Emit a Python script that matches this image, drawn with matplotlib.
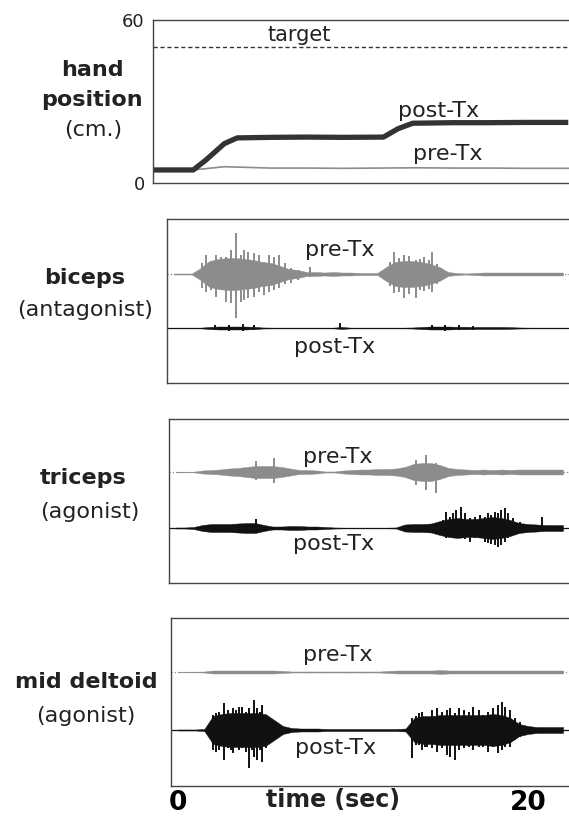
import numpy as np
from matplotlib import pyplot as plt

plt.rcParams['font.family'] = ['DejaVu Sans']

W, H = 569, 818

# ---- hand position (cm) ----
target = 50
pre_pos_t = [-0.4, 1.8, 2.5, 3.5, 4.5, 6, 8, 10, 12, 14, 16, 18, 20, 22.3]
pre_pos = [4.8, 4.8, 5.3, 6.0, 5.8, 5.5, 5.5, 5.4, 5.5, 5.6, 5.5, 5.5, 5.4, 5.4]
post_pos_t = [-0.4, 1.8, 2.5, 3.5, 4.2, 6, 8, 10, 12.2, 13.0, 13.8, 16, 18, 20, 22.3]
post_pos = [4.8, 4.8, 8.5, 14.5, 16.6, 16.8, 16.9, 16.8, 16.9, 20.0, 22.0, 22.2, 22.2, 22.3, 22.3]

# ---- EMG envelopes, sampled every 0.5 s from 0 to 22 s ----
t_env = np.arange(0, 22.5, 0.5)

biceps_pre = [0.5, 0.5, 0.5, 6, 13, 15, 16, 16, 15, 14, 12, 11, 8, 5, 4, 2, 2, 1.5,
              2, 1.5, 1.5, 1, 1, 1, 7, 12, 13, 13, 12, 10, 7, 2, 1, 0.5, 1, 1.5,
              1.5, 1.5, 1.5, 1.5, 1.5, 1.5, 1.5, 1.5, 1.5]
biceps_post = [0.3, 0.3, 0.3, 0.3, 1, 1.5, 1.5, 1.5, 1.5, 1.2, 0.5, 0.3, 0.3, 0.3, 0.3,
               0.3, 0.3, 0.3, 0.3, 1, 0.3, 0.3, 0.3, 0.3, 0.3, 0.3, 0.3, 0.5, 1, 1.5,
               1.5, 1.5, 1.2, 1.2, 1, 1, 1, 1, 0.8, 0.5, 0.3, 0.3, 0.3, 0.3, 0.3]
triceps_pre = [0.3, 0.3, 0.3, 1.5, 2, 2.5, 3.5, 4, 5, 6, 6, 6, 5, 3.5, 2, 2, 1.5, 0.5,
               0.5, 1.5, 2, 2.5, 2.5, 3, 3, 3.5, 5, 8, 9, 9, 7, 4, 3, 2.5, 2, 2.5,
               2, 2.5, 2, 2.5, 2.5, 2.5, 2.5, 2.5, 2.5]
triceps_post = [0.5, 0.5, 1, 3, 4, 4, 4, 4.5, 5, 5, 3, 1.5, 1.5, 2, 2, 1.5, 1.5, 1,
                0.5, 0.3, 0.3, 0.3, 0.3, 0.3, 0.3, 0.5, 3.5, 4, 4, 4.5, 7, 9, 10, 9,
                9, 10, 11, 10, 8, 5, 4, 3.5, 3, 3, 3]
deltoid_pre = [0.3, 0.3, 0.3, 0.5, 1.5, 1.5, 1.5, 1.5, 1.5, 1.5, 1.5, 1.5, 1, 0.5, 0.5,
               0.5, 0.5, 0.5, 0.5, 0.5, 0.5, 0.5, 0.5, 0.5, 1, 1.5, 1.5, 1.5, 1.5, 1.5,
               2, 1.5, 1.5, 1.5, 1.5, 1.5, 1.5, 1.5, 1.5, 1.5, 1.5, 1.5, 1.5, 1.5, 1.5]
deltoid_post = [0.5, 0.5, 0.5, 1, 14, 16, 17, 17, 17, 17, 16, 10, 4, 2, 1.5, 1.5, 1.5,
                1, 1, 1, 1, 1, 1, 1, 1, 1, 1.5, 12, 14, 14, 15, 15, 15, 15, 15, 15,
                16, 15, 12, 6, 4, 3, 3, 3, 3]

# ---- individual spikes: time (s), height above, depth below ----
biceps_pre_sp_t = [1.6, 1.78, 2.07, 2.35, 2.64, 2.92, 3.21, 3.5, 3.78, 3.97, 4.16,
                   4.54, 4.82, 5.11, 5.39, 5.68, 5.96, 6.25, 6.63, 7.0, 7.67,
                   12.2, 12.42, 12.7, 13.0, 13.3, 13.66, 13.9, 14.13, 14.4, 14.6,
                   14.85, 15.1]
biceps_pre_sp_up = [11, 19, 12, 19, 17, 17, 24, 41, 19, 24, 22, 21, 19, 12, 19, 17,
                    19, 11, 6, 4, 7, 12, 22, 16, 19, 18, 14, 15, 17, 14, 22, 10, 6]
biceps_pre_sp_dn = [14, 18, 16, 23, 16, 28, 29, 44, 28, 26, 24, 23, 18, 21, 18, 16,
                    14, 10, 9, 6, 3, 12, 19, 18, 24, 20, 24, 16, 17, 15, 18, 10, 6]
biceps_post_sp_t = [2.3, 3.1, 3.9, 4.5, 9.4, 14.6, 15.3, 16.1, 16.9]
biceps_post_sp_up = [3, 3, 4, 3, 5, 3, 3, 3, 2]
biceps_post_sp_dn = [2, 3, 3, 2, 1, 2, 3, 2, 2]

triceps_pre_sp_t = [4.54, 5.58, 13.66, 14.2, 14.8]
triceps_pre_sp_up = [11, 14, 12, 17, 9]
triceps_pre_sp_dn = [8, 11, 13, 18, 21]
triceps_post_sp_t = [4.54, 15.18, 15.37, 15.56, 15.74, 15.94, 16.22, 16.41, 16.7,
                     16.98, 17.26, 17.55, 17.74, 17.93, 18.12, 18.31, 18.5, 18.69,
                     18.88, 19.16, 19.54, 20.78]
triceps_post_sp_up = [9, 8, 16, 11, 15, 18, 21, 15, 10, 11, 13, 11, 15, 13, 16, 15,
                      18, 20, 15, 10, 6, 11]
triceps_post_sp_dn = [5, 5, 10, 8, 9, 7, 9, 11, 14, 10, 9, 14, 15, 16, 17, 19, 17,
                      14, 10, 7, 5, 3]

deltoid_pre_sp_t = []
deltoid_pre_sp_up = []
deltoid_pre_sp_dn = []
deltoid_post_sp_t = [1.98, 2.17, 2.35, 2.54, 2.64, 2.83, 3.02, 3.12, 3.3, 3.5, 3.68,
                     3.87, 4.06, 4.2, 4.35, 4.54, 4.68, 4.82, 5.01, 5.15, 5.3, 5.5,
                     5.68,
                     13.37, 13.6, 13.75, 13.94, 14.1, 14.23, 14.51, 14.8, 15.08,
                     15.37, 15.56, 15.84, 16.03, 16.32, 16.6, 16.88, 17.17, 17.45,
                     17.74, 18.02, 18.31, 18.5, 18.69, 18.97, 19.26, 19.54]
deltoid_post_sp_up = [15, 17, 18, 14, 27, 20, 16, 22, 20, 23, 23, 18, 22, 16, 30, 22,
                      18, 25, 15, 12, 7, 5, 3,
                      12, 14, 17, 18, 13, 13, 20, 22, 18, 20, 22, 17, 22, 20, 18,
                      23, 20, 15, 18, 22, 25, 28, 23, 20, 12, 8]
deltoid_post_sp_dn = [20, 22, 20, 16, 30, 18, 20, 23, 17, 20, 18, 22, 38, 20, 27, 30,
                      20, 32, 18, 12, 10, 5, 3,
                      28, 15, 15, 20, 17, 17, 18, 22, 18, 25, 27, 30, 20, 18, 17,
                      20, 17, 17, 22, 17, 23, 20, 17, 17, 10, 7]

PRE_C = '#8c8c8c'
POST_C = '#111111'
XLIM = (-0.4, 22.34)


def fx(x):
    return x / W


def fy(y):
    return 1 - y / H


def panel(left, top, bottom):
    ax = fig.add_axes([fx(left), fy(bottom), 1 - fx(left), (bottom - top) / H])
    ax.set_xlim(*XLIM)
    ax.spines['right'].set_visible(False)
    for s in ('left', 'top', 'bottom'):
        ax.spines[s].set_color('#444444')
        ax.spines[s].set_linewidth(1.0)
    ax.set_xticks([])
    ax.set_yticks([])
    return ax


def trace(ax, env, sp_t, sp_up, sp_dn, base, color, ls):
    env = np.array(env)
    ax.plot(XLIM, [base, base], color=color, lw=0.9, ls=ls)
    ax.fill_between(t_env, base - env, base + env, color=color, lw=0.3,
                    edgecolor=color)
    if sp_t:
        ax.vlines(sp_t, base - np.array(sp_dn), base + np.array(sp_up),
                  color=color, lw=1.4)


fig = plt.figure(figsize=(W / 100, H / 100), dpi=100)

# hand position
ax1 = panel(153, 20, 183)
ax1.set_ylim(0, 60)
ax1.set_yticks([0, 60])
ax1.tick_params(axis='y', length=0, labelsize=13, pad=6, labelcolor='#222222')
ax1.axhline(target, color='#333333', lw=1.0, ls=(0, (3, 2)))
ax1.plot(pre_pos_t, pre_pos, color=PRE_C, lw=1.2)
ax1.plot(post_pos_t, post_pos, color='#333333', lw=3.8, solid_capstyle='butt')

# EMG panels
ax2 = panel(167, 219, 383)
ax2.set_ylim(0, 164)
trace(ax2, biceps_pre, biceps_pre_sp_t, biceps_pre_sp_up, biceps_pre_sp_dn, 109, PRE_C, ':')
trace(ax2, biceps_post, biceps_post_sp_t, biceps_post_sp_up, biceps_post_sp_dn, 55, POST_C, '-')

ax3 = panel(169, 419, 583)
ax3.set_ylim(0, 164)
trace(ax3, triceps_pre, triceps_pre_sp_t, triceps_pre_sp_up, triceps_pre_sp_dn, 111, PRE_C, ':')
trace(ax3, triceps_post, triceps_post_sp_t, triceps_post_sp_up, triceps_post_sp_dn, 55, POST_C, '-')

ax4 = panel(171, 618, 786)
ax4.set_ylim(0, 168)
trace(ax4, deltoid_pre, deltoid_pre_sp_t, deltoid_pre_sp_up, deltoid_pre_sp_dn, 114, PRE_C, ':')
trace(ax4, deltoid_post, deltoid_post_sp_t, deltoid_post_sp_up, deltoid_post_sp_dn, 56, POST_C, '-')
ax4.set_xticks([0, 20])
ax4.set_xticklabels(['0', '20'], fontsize=19, fontweight='bold')
ax4.tick_params(axis='x', length=0, pad=3)

# labels
txt = dict(ha='center', va='center', color='#222222')
fig.text(fx(333), fy(800), 'time (sec)', fontsize=17, fontweight='bold', **txt)

fig.text(fx(92), fy(70), 'hand', fontsize=16, fontweight='bold', **txt)
fig.text(fx(92), fy(100), 'position', fontsize=16, fontweight='bold', **txt)
fig.text(fx(93), fy(130), '(cm.)', fontsize=16, **txt)
fig.text(fx(85), fy(278), 'biceps', fontsize=16, fontweight='bold', **txt)
fig.text(fx(85), fy(310), '(antagonist)', fontsize=16, **txt)
fig.text(fx(83), fy(478), 'triceps', fontsize=16, fontweight='bold', **txt)
fig.text(fx(90), fy(512), '(agonist)', fontsize=16, **txt)
fig.text(fx(86), fy(682), 'mid deltoid', fontsize=16, fontweight='bold', **txt)
fig.text(fx(86), fy(716), '(agonist)', fontsize=16, **txt)

fig.text(fx(299), fy(35), 'target', fontsize=15, **txt)
fig.text(fx(439), fy(111), 'post-Tx', fontsize=16, **txt)
fig.text(fx(448), fy(154), 'pre-Tx', fontsize=16, **txt)
fig.text(fx(340), fy(250), 'pre-Tx', fontsize=16, **txt)
fig.text(fx(335), fy(347), 'post-Tx', fontsize=16, **txt)
fig.text(fx(338), fy(457), 'pre-Tx', fontsize=16, **txt)
fig.text(fx(334), fy(544), 'post-Tx', fontsize=16, **txt)
fig.text(fx(338), fy(655), 'pre-Tx', fontsize=16, **txt)
fig.text(fx(336), fy(748), 'post-Tx', fontsize=16, **txt)

fig.savefig('out.png', dpi=100)
